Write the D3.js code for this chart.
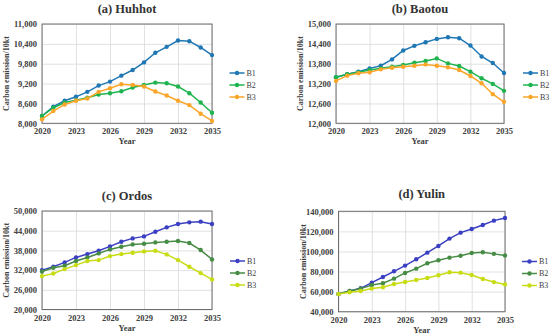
<!DOCTYPE html>
<html>
<head>
<meta charset="utf-8">
<script src="https://cdn.jsdelivr.net/npm/d3@7"></script>
<style>
  body { margin: 0; background: #fff; }
</style>
</head>
<body>
<svg id="chart" width="550" height="335"></svg>
<script>
// categories
var years = [2020, 2021, 2022, 2023, 2024, 2025, 2026, 2027, 2028, 2029, 2030, 2031, 2032, 2033, 2034, 2035];
var xTicks = [2020, 2023, 2026, 2029, 2032, 2035];
var seriesNames = ["B1", "B2", "B3"];

// (a) Huhhot
var huhhotB1 = [8220, 8500, 8680, 8800, 8950, 9140, 9260, 9440, 9610, 9840, 10130, 10310, 10500, 10480, 10290, 10060];
var huhhotB2 = [8220, 8470, 8630, 8700, 8770, 8870, 8910, 8970, 9080, 9160, 9230, 9210, 9110, 8910, 8630, 8320];
var huhhotB3 = [8120, 8370, 8570, 8680, 8750, 8950, 9060, 9180, 9160, 9110, 8960, 8840, 8680, 8550, 8290, 8070];
var huhhotTicks = [8000, 8600, 9200, 9800, 10400, 11000];

// (b) Baotou
var baotouB1 = [13390, 13480, 13560, 13660, 13740, 13930, 14200, 14340, 14450, 14550, 14600, 14570, 14350, 14020, 13820, 13520];
var baotouB2 = [13390, 13480, 13540, 13610, 13660, 13710, 13760, 13830, 13880, 13960, 13810, 13730, 13560, 13360, 13190, 12980];
var baotouB3 = [13280, 13440, 13510, 13540, 13630, 13680, 13710, 13740, 13780, 13740, 13690, 13610, 13430, 13210, 12880, 12650];
var baotouTicks = [12000, 12600, 13200, 13800, 14400, 15000];

// (c) Ordos
var ordosB1 = [32000, 33020, 34340, 35860, 36880, 37900, 39220, 40640, 41660, 42270, 43700, 45020, 46030, 46540, 46750, 46030];
var ordosB2 = [31590, 32710, 33320, 34750, 35860, 37080, 38300, 39120, 39830, 40030, 40440, 40640, 40850, 40240, 38100, 35250];
var ordosB3 = [30170, 30980, 32300, 33520, 34750, 35050, 36270, 36880, 37290, 37690, 37900, 36780, 35050, 33020, 31080, 29150];
var ordosTicks = [20000, 26000, 32000, 38000, 44000, 50000];

// (d) Yulin
var yulinB1 = [57660, 60650, 63300, 68950, 74600, 80240, 85900, 92200, 98800, 105500, 112800, 118750, 122400, 126400, 130700, 133400];
var yulinB2 = [57660, 60650, 63000, 66600, 68300, 72900, 78600, 82900, 88200, 91200, 93850, 95800, 98500, 99200, 97600, 96000];
var yulinB3 = [57660, 59300, 60650, 63000, 64300, 67600, 69600, 71600, 73600, 76300, 79250, 78900, 76600, 72600, 69500, 67200];
var yulinTicks = [40000, 60000, 80000, 100000, 120000, 140000];

var warmColors = ["#1f77b4", "#1fb44f", "#fba62a"];
var coolColors = ["#3b40c2", "#478c45", "#c8dc14"];

var panels = [
    {title: "(a) Huhhot", series: [huhhotB1, huhhotB2, huhhotB3], ticks: huhhotTicks, colors: warmColors,
     box: {left: 42, right: 212, top: 24, bottom: 123.3}, titleY: 13, legendX: 229.5, legendY: 73},
    {title: "(b) Baotou", series: [baotouB1, baotouB2, baotouB3], ticks: baotouTicks, colors: warmColors,
     box: {left: 336, right: 504, top: 24, bottom: 123.3}, titleY: 13, legendX: 523, legendY: 73},
    {title: "(c) Ordos", series: [ordosB1, ordosB2, ordosB3], ticks: ordosTicks, colors: coolColors,
     box: {left: 42, right: 212, top: 211, bottom: 309.5}, titleY: 200, legendX: 230, legendY: 261},
    {title: "(d) Yulin", series: [yulinB1, yulinB2, yulinB3], ticks: yulinTicks, colors: coolColors,
     box: {left: 338.5, right: 505, top: 211.3, bottom: 311.7}, titleY: 198, legendX: 522, legendY: 261.5}
];

var FONT = "'Liberation Serif', 'Times New Roman', serif";
var svg = d3.select("#chart").style("font-family", FONT);
var fmt = d3.format(",");

panels.forEach(function(p){
    var b = p.box;
    var x = d3.scaleLinear().domain([2020, 2035]).range([b.left, b.right]);
    var y = d3.scaleLinear().domain([p.ticks[0], p.ticks[p.ticks.length - 1]]).range([b.bottom, b.top]);
    var g = svg.append("g");

    // gridlines
    g.append("g")
        .attr("transform", "translate(0," + b.bottom + ")")
        .call(d3.axisBottom(x).tickValues(xTicks).tickSize(-(b.bottom - b.top)).tickFormat(""))
        .call(function(a){ a.select(".domain").remove(); a.selectAll("line").attr("stroke", "#d9d9d9").attr("stroke-width", 0.8); });
    g.append("g")
        .attr("transform", "translate(" + b.left + ",0)")
        .call(d3.axisLeft(y).tickValues(p.ticks).tickSize(-(b.right - b.left)).tickFormat(""))
        .call(function(a){ a.select(".domain").remove(); a.selectAll("line").attr("stroke", "#d9d9d9").attr("stroke-width", 0.8); });

    // frame
    g.append("rect")
        .attr("x", b.left).attr("y", b.top)
        .attr("width", b.right - b.left).attr("height", b.bottom - b.top)
        .attr("fill", "none").attr("stroke", "#6e6e6e").attr("stroke-width", 1);

    // tick labels
    g.append("g")
        .attr("transform", "translate(" + b.left + ",0)")
        .call(d3.axisLeft(y).tickValues(p.ticks).tickSize(0).tickPadding(5).tickFormat(fmt))
        .call(function(a){
            a.select(".domain").remove();
            a.attr("font-family", null).style("font-family", FONT);
            a.selectAll("text").style("font-family", FONT).attr("font-size", 8.5)
                .attr("font-weight", "bold").attr("fill", "#404040");
        });
    g.append("g")
        .attr("transform", "translate(0," + b.bottom + ")")
        .call(d3.axisBottom(x).tickValues(xTicks).tickSize(0).tickPadding(5).tickFormat(d3.format("d")))
        .call(function(a){
            a.select(".domain").remove();
            a.attr("font-family", null).style("font-family", FONT);
            a.selectAll("text").style("font-family", FONT).attr("font-size", 8.5)
                .attr("font-weight", "bold").attr("fill", "#404040");
        });

    // titles
    g.append("text")
        .attr("x", (b.left + b.right) / 2).attr("y", p.titleY)
        .attr("text-anchor", "middle").attr("font-size", 12.5).attr("font-weight", "bold")
        .style("font-family", FONT).attr("fill", "#333").text(p.title);
    g.append("text")
        .attr("x", (b.left + b.right) / 2).attr("y", b.bottom + 21)
        .attr("text-anchor", "middle").attr("font-size", 8.5).attr("font-weight", "bold")
        .style("font-family", FONT).attr("fill", "#404040").text("Year");
    g.append("text")
        .attr("transform", "translate(" + (b.left - 33) + "," + ((b.top + b.bottom) / 2) + ") rotate(-90)")
        .attr("text-anchor", "middle").attr("font-size", 8).attr("font-weight", "bold")
        .style("font-family", FONT).attr("fill", "#404040").text("Carbon emission/10kt");

    // lines + markers
    var line = d3.line().x(function(d, i){ return x(years[i]); }).y(function(d){ return y(d); });
    p.series.forEach(function(s, k){
        g.append("path").datum(s)
            .attr("d", line).attr("fill", "none")
            .attr("stroke", p.colors[k]).attr("stroke-width", 1.5);
        g.selectAll(null).data(s).enter().append("circle")
            .attr("cx", function(d, i){ return x(years[i]); })
            .attr("cy", function(d){ return y(d); })
            .attr("r", 2.2).attr("fill", p.colors[k]);
    });

    // legend
    seriesNames.forEach(function(name, k){
        var ly = p.legendY + k * 12;
        g.append("line")
            .attr("x1", p.legendX).attr("x2", p.legendX + 15)
            .attr("y1", ly).attr("y2", ly)
            .attr("stroke", p.colors[k]).attr("stroke-width", 1.5);
        g.append("circle").attr("cx", p.legendX + 7.5).attr("cy", ly).attr("r", 2.2).attr("fill", p.colors[k]);
        g.append("text").attr("x", p.legendX + 17).attr("y", ly + 2.8)
            .style("font-family", FONT).attr("font-size", 8).attr("fill", "#404040").text(name);
    });
});
</script>
</body>
</html>
